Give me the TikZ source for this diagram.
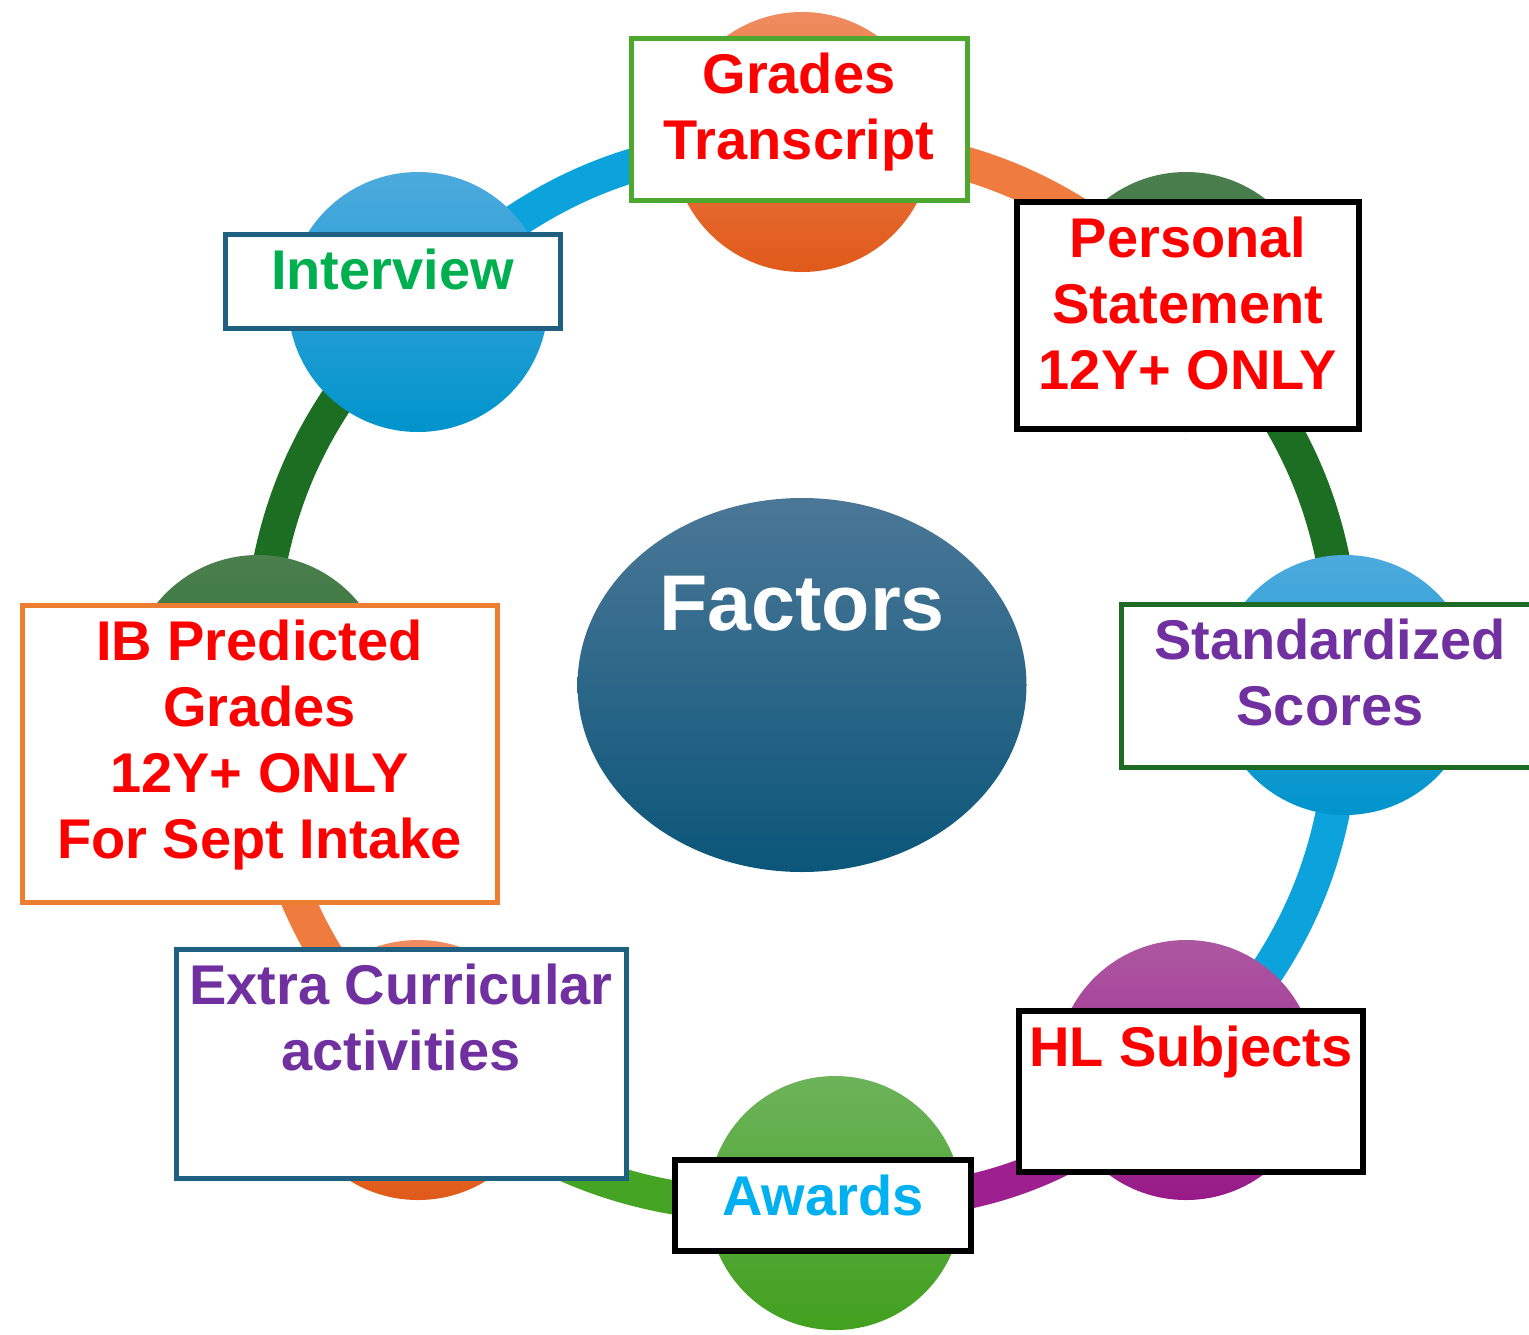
\documentclass[tikz,border=0pt]{standalone}
\usepackage{fontspec}
\setmainfont{Liberation Sans}
\usepackage{tikz}
\usetikzlibrary{positioning,shapes.geometric,backgrounds}
\usepackage{xcolor}
\definecolor{orgTop}{HTML}{EF8C60}
\definecolor{orgBot}{HTML}{E05A1A}
\definecolor{orgLine}{HTML}{F07B3E}
\definecolor{dkgTop}{HTML}{4B7F4E}
\definecolor{dkgBot}{HTML}{1A6B22}
\definecolor{dkgLine}{HTML}{1B6E22}
\definecolor{skyTop}{HTML}{4DAADD}
\definecolor{skyBot}{HTML}{0094CC}
\definecolor{skyLine}{HTML}{0CA3DD}
\definecolor{plumTop}{HTML}{AD57A1}
\definecolor{plumBot}{HTML}{971A88}
\definecolor{plumLine}{HTML}{9E2090}
\definecolor{lgrTop}{HTML}{6CB35A}
\definecolor{lgrBot}{HTML}{42A01F}
\definecolor{lgrLine}{HTML}{45A424}
\definecolor{hubTop}{HTML}{4B7797}
\definecolor{hubBot}{HTML}{0B5679}
\definecolor{txtred}{HTML}{FF0000}
\definecolor{txtpurple}{HTML}{7030A0}
\definecolor{txtgreen}{HTML}{00B050}
\definecolor{txtsky}{HTML}{00B0F0}
\definecolor{edgegreen}{HTML}{4EA72E}
\definecolor{edgedark}{HTML}{1E6B25}
\definecolor{edgeteal}{HTML}{1F5F7F}
\definecolor{edgeorange}{HTML}{ED7D31}
\newcommand{\cardtxt}[3]{\parbox[t][#2pt][t]{#1pt}{\centering\vspace*{15pt}#3}}

\tikzset{
  ring/.style={circle, minimum size=260pt, inner sep=0pt, draw=none,
               top color=#1Top, bottom color=#1Bot},
  link/.style={line width=34pt, draw=#1},
  hub/.style={ellipse, minimum width=449pt, minimum height=374pt, inner sep=0pt,
              draw=none, top color=hubTop, bottom color=hubBot},
  card/.style={draw=#1, line width=5pt, fill=white, inner sep=0pt, outer sep=0pt,
               anchor=north west, font=\fontsize{56}{66}\selectfont\bfseries},
}

\begin{document}
\begin{tikzpicture}[x=1pt, y=-1pt]
  \useasboundingbox (0,0) rectangle (1529,1334);

  % circles round the ring
  \node[ring=org]  (cT)  at (802,142)  {};
  \node[ring=dkg]  (cTR) at (1186,302) {};
  \node[ring=sky]  (cR)  at (1345,685) {};
  \node[ring=plum] (cBR) at (1186,1070) {};
  \node[ring=lgr, minimum size=254pt] (cB) at (835,1203) {};
  \node[ring=org]  (cBL) at (418,1070) {};
  \node[ring=dkg]  (cL)  at (258,685)  {};
  \node[ring=sky]  (cTL) at (418,302)  {};

  \begin{scope}[on background layer]
    \draw[link=orgLine]  (cT.center)  to[bend left=22] (cTR.center);
    \draw[link=dkgLine]  (cTR.center) to[bend left=22] (cR.center);
    \draw[link=skyLine]  (cR.center)  to[bend left=22] (cBR.center);
    \draw[link=plumLine] (cBR.center) to[bend left=22] (cB.center);
    \draw[link=lgrLine]  (cB.center)  to[bend left=22] (cBL.center);
    \draw[link=orgLine]  (cBL.center) to[bend left=22] (cL.center);
    \draw[link=dkgLine]  (cL.center)  to[bend left=22] (cTL.center);
    \draw[link=skyLine]  (cTL.center) to[bend left=22] (cT.center);
  \end{scope}

  % centre
  \node[hub] (hub) at (802,685) {};
  \node[anchor=base, text=white, font=\fontsize{79}{90}\selectfont\bfseries]
    (hubtxt) at (802,630) {Factors};

  % labels
  \node[card=edgegreen, text=txtred] (grades) at (631,38)
    {\cardtxt{336}{162}{Grades\\Transcript}};
  \node[card=black, line width=6pt, text=txtred] (stmt) at (1017,202)
    {\cardtxt{342}{227}{Personal\\Statement\\12Y+ ONLY}};
  \node[card=edgedark, text=txtpurple] (scores) at (1121,604)
    {\cardtxt{418}{163}{Standardized\\Scores}};
  \node[card=black, line width=6pt, text=txtred] (hl) at (1019,1011)
    {\cardtxt{344}{161}{HL Subjects}};
  \node[card=black, line width=6pt, text=txtsky] (awards) at (675,1160)
    {\cardtxt{296}{91}{Awards}};
  \node[card=edgeteal, text=txtpurple] (extra) at (176,949)
    {\cardtxt{450}{229}{Extra Curricular\\activities}};
  \node[card=edgeorange, text=txtred] (ibgrades) at (22,605)
    {\cardtxt{475}{297}{IB Predicted\\Grades\\12Y+ ONLY\\For Sept Intake}};
  \node[card=edgeteal, text=txtgreen] (interview) at (225,234)
    {\cardtxt{335}{94}{Interview}};
\end{tikzpicture}
\end{document}
